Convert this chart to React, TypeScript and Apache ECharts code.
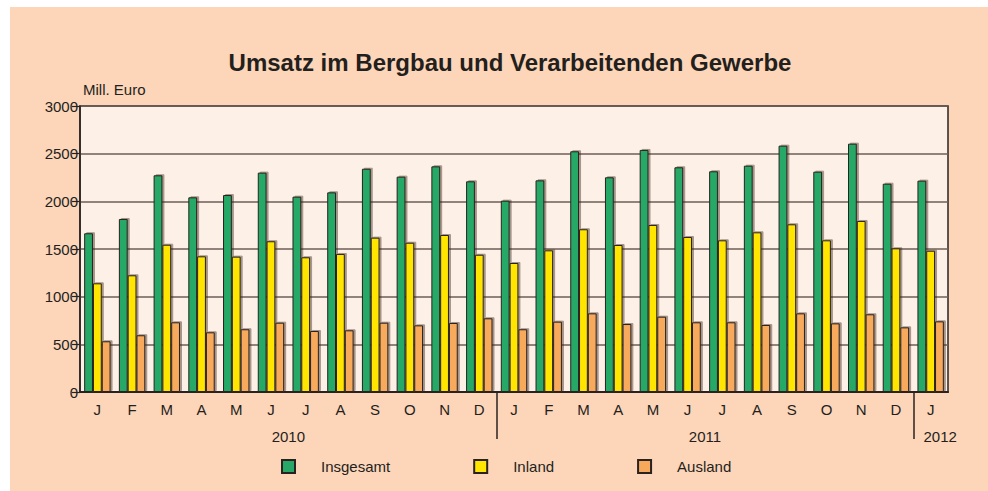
import React, { useEffect, useRef } from "react";
import * as echarts from "echarts";

const months = ["J", "F", "M", "A", "M", "J", "J", "A", "S", "O", "N", "D", "J", "F", "M", "A", "M", "J", "J", "A", "S", "O", "N", "D", "J"];
const insgesamt = [1665, 1815, 2273, 2042, 2066, 2301, 2049, 2094, 2342, 2259, 2367, 2210, 2007, 2220, 2525, 2252, 2539, 2357, 2315, 2374, 2584, 2311, 2605, 2185, 2217];
const inland = [1140, 1224, 1545, 1423, 1420, 1581, 1413, 1448, 1619, 1566, 1647, 1440, 1353, 1486, 1707, 1542, 1752, 1626, 1591, 1675, 1759, 1591, 1794, 1507, 1482];
const ausland = [532, 595, 731, 626, 658, 727, 640, 647, 727, 699, 724, 773, 658, 738, 825, 713, 790, 731, 731, 703, 825, 720, 815, 678, 741];
const years = ["2010", "2011", "2012"];
const yearMonthCounts = [12, 12, 1];
const seriesNames = ["Insgesamt", "Inland", "Ausland"];
const seriesColors = ["#27a866", "#ffe500", "#f7a95b"];

const FONT = "'Liberation Sans', Arial, sans-serif";
const TXT = "#231f1c";

export default function App() {
  const ref = useRef<HTMLDivElement>(null);
  useEffect(() => {
    if (!ref.current) return;
    const chart = echarts.init(ref.current, undefined, { renderer: "svg" });

    const starts: number[] = [];
    let acc = 0;
    yearMonthCounts.forEach((c) => { starts.push(acc); acc += c; });
    const centers = yearMonthCounts.map((c, i) => starts[i] + c / 2);
    const separators = starts.slice(1);
    const total = months.length;

    const dataSets = [insgesamt, inland, ausland];

    chart.setOption({
      animation: false,
      backgroundColor: "#fdd5b9",
      textStyle: { fontFamily: FONT },
      title: {
        text: "Umsatz im Bergbau und Verarbeitenden Gewerbe",
        left: 495,
        textAlign: "center",
        top: 38,
        textStyle: { fontFamily: FONT, fontSize: 24, fontWeight: "bold", color: TXT },
      },
      legend: {
        data: seriesNames,
        left: 271,
        top: 452,
        padding: 0,
        itemWidth: 13,
        itemHeight: 13,
        itemGap: 83,
        icon: "rect",
        textStyle: { fontFamily: FONT, fontSize: 15, color: TXT, padding: [0, 0, 0, 21] },
      },
      grid: {
        left: 70,
        right: 40,
        top: 99,
        bottom: 99,
        show: true,
        backgroundColor: "#fdf0e6",
        borderColor: "#2a2220",
        borderWidth: 1.5,
      },
      xAxis: [
        {
          type: "category",
          data: months,
          gridIndex: 0,
          axisLine: { show: true, lineStyle: { color: "#2a2220", width: 2 } },
          axisTick: { show: false },
          axisLabel: { fontFamily: FONT, fontSize: 15, color: TXT, margin: 10, interval: 0 },
        },
        {
          type: "value",
          gridIndex: 0,
          position: "bottom",
          min: 0,
          max: total,
          splitLine: { show: false },
          axisLine: { show: false },
          axisTick: {
            show: true,
            customValues: separators,
            length: 47,
            lineStyle: { color: "#2a2220", width: 1.5 },
          },
          axisLabel: {
            customValues: centers,
            margin: 37,
            fontFamily: FONT,
            fontSize: 15,
            color: TXT,
            formatter: (v: number) => {
              const idx = centers.findIndex((c) => Math.abs(c - v) < 1e-6);
              if (idx < 0) return "";
              return yearMonthCounts[idx] === 1 ? "{r|" + years[idx] + "}" : years[idx];
            },
            rich: { r: { fontFamily: FONT, fontSize: 15, color: TXT, padding: [0, 0, 0, 19] } },
          },
        },
      ],
      yAxis: {
        type: "value",
        min: 0,
        max: 3000,
        interval: 500,
        name: "Mill. Euro",
        nameLocation: "end",
        nameGap: 9,
        nameTextStyle: { fontFamily: FONT, fontSize: 15, color: TXT, align: "left", padding: [0, 0, 0, 3] },
        axisLine: { show: true, lineStyle: { color: "#2a2220", width: 1.5 } },
        axisTick: { show: true, length: 8, lineStyle: { color: "#2a2220", width: 1.2 } },
        axisLabel: { fontFamily: FONT, fontSize: 15, color: TXT, margin: 2, formatter: (v: number) => String(v) },
        splitLine: { show: true, lineStyle: { color: "#6c5f58", width: 1.5 } },
      },
      series: seriesNames.map((name, i) => ({
        name,
        type: "bar",
        xAxisIndex: 0,
        data: dataSets[i],
        barGap: "0%",
        barCategoryGap: "24%",
        itemStyle: {
          color: seriesColors[i],
          borderColor: "#2a2220",
          borderWidth: 1,
          shadowColor: "rgba(60,40,30,0.45)",
          shadowBlur: 1,
          shadowOffsetX: 2,
          shadowOffsetY: -1,
        },
      })),
    });
    return () => chart.dispose();
  }, []);

  return (
    <div style={{ position: "fixed", left: 0, top: 0, width: 988, height: 491, background: "#ffffff" }}>
      <div ref={ref} style={{ position: "absolute", left: 10, top: 7, width: 978, height: 484 }} />
    </div>
  );
}
